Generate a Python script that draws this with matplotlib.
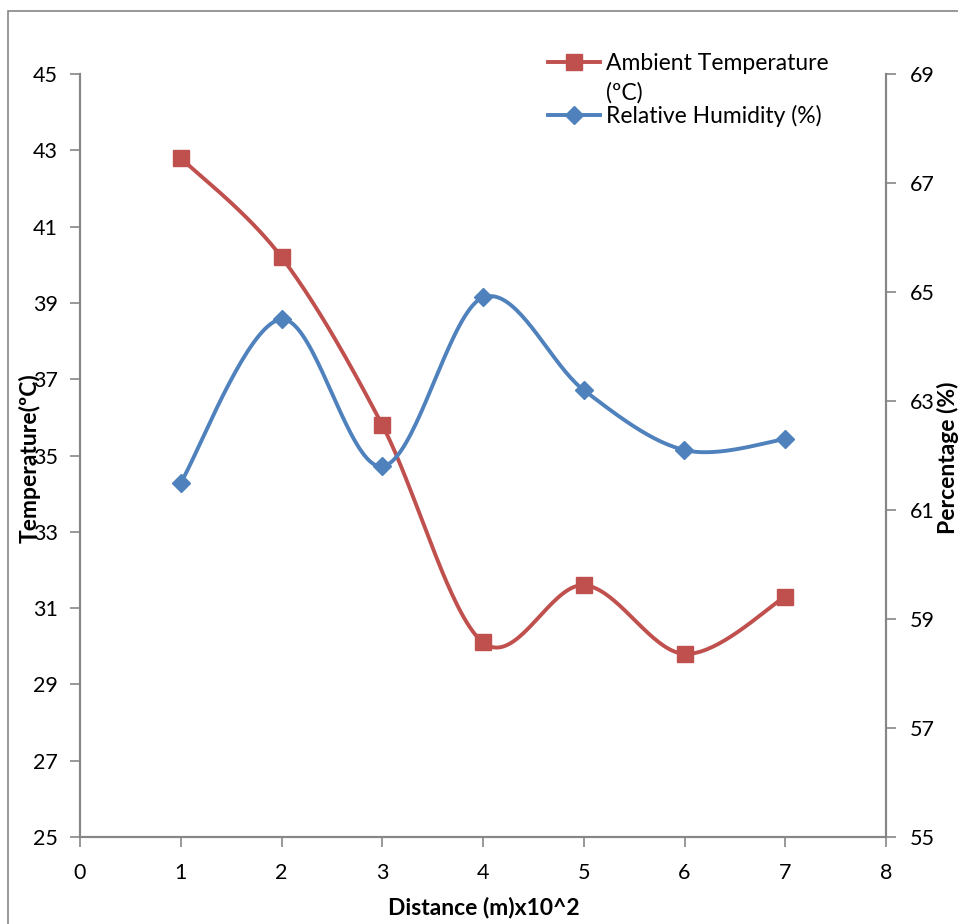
import numpy as np
import matplotlib
matplotlib.use('Agg')
import matplotlib.pyplot as plt
from matplotlib.lines import Line2D
from matplotlib.patches import Rectangle

distance = [1, 2, 3, 4, 5, 6, 7]
temperature = [42.8, 40.2, 35.8, 30.1, 31.6, 29.8, 31.3]
humidity = [61.5, 64.5, 61.8, 64.9, 63.2, 62.1, 62.3]

RED = '#C0504D'
BLUE = '#4F81BD'
GREY = '#868686'

plt.rcParams['font.family'] = ['Lato', 'DejaVu Sans']


def smooth(xs, ys, n=40):
    # excel-like smoothed line: cubic bezier segments through the points
    x = np.asarray(xs, float)
    y = np.asarray(ys, float)
    px = np.concatenate([[x[0]], x, [x[-1]]])
    py = np.concatenate([[y[0]], y, [y[-1]]])
    out_x, out_y = [], []
    t = np.linspace(0, 1, n)
    for i in range(1, len(px) - 2):
        p0 = np.array([px[i], py[i]])
        p3 = np.array([px[i + 1], py[i + 1]])
        c1 = p0 + (np.array([px[i + 1], py[i + 1]]) - np.array([px[i - 1], py[i - 1]])) / 6
        c2 = p3 - (np.array([px[i + 2], py[i + 2]]) - np.array([px[i], py[i]])) / 6
        b = ((1 - t) ** 3)[:, None] * p0 + (3 * (1 - t) ** 2 * t)[:, None] * c1 \
            + (3 * (1 - t) * t ** 2)[:, None] * c2 + (t ** 3)[:, None] * p3
        out_x.extend(b[:, 0])
        out_y.extend(b[:, 1])
    return out_x, out_y


fig = plt.figure(figsize=(9.58, 9.24), dpi=100)
fig.patches.append(Rectangle((8 / 958, -0.1), 2, 1 - 11 / 924 + 0.1, transform=fig.transFigure,
                             fill=False, edgecolor=GREY, linewidth=1.2))
ax = fig.add_axes([80 / 958, 1 - 837 / 924, (886 - 80) / 958, (837 - 74) / 924])
ax2 = ax.twinx()

sx, sy = smooth(distance, temperature)
ax.plot(sx, sy, color=RED, linewidth=2.8, zorder=3)
ax.plot(distance, temperature, linestyle='none', marker='s', markersize=11,
        color=RED, zorder=4)

hx, hy = smooth(distance, humidity)
ax2.plot(hx, hy, color=BLUE, linewidth=2.8, zorder=3)
ax2.plot(distance, humidity, linestyle='none', marker='D', markersize=9,
         color=BLUE, zorder=4)

ax.set_xlim(0, 8)
ax.set_ylim(25, 45)
ax.set_yticks(np.arange(25, 46, 2))
ax.set_xticks(range(0, 9))
ax2.set_ylim(55, 69)
ax2.set_yticks(np.arange(55, 70, 2))

for a in (ax, ax2):
    a.spines['top'].set_visible(False)
    for s in ('left', 'right', 'bottom'):
        a.spines[s].set_color(GREY)
        a.spines[s].set_linewidth(1.5)
    a.tick_params(direction='out', length=7, width=1.2, color=GREY,
                  labelsize=15.5, labelcolor='black')
    a.set_facecolor('none')
ax.tick_params(axis='y', pad=9)
ax.tick_params(axis='x', pad=12)
ax2.tick_params(axis='y', pad=10)

fig.text(30 / 958, 1 - 458 / 924, 'Temperature(ºC)', rotation=90, ha='center', va='center',
         fontsize=16.5, fontweight='bold')
fig.text(948 / 958, 1 - 458 / 924, 'Percentage (%)', rotation=90, ha='center', va='center',
         fontsize=16.5, fontweight='bold')
fig.text(484 / 958, 1 - 908 / 924, 'Distance (m)x10^2', ha='center', va='center',
         fontsize=16.5, fontweight='bold')

# legend drawn by hand to get the wrapped label like the original
legend_rows = [(62, RED, 's', 11, ['Ambient Temperature', '(ºC)']),
               (115, BLUE, 'D', 9, ['Relative Humidity (%)'])]
for yy, col, mk, ms, lines in legend_rows:
    fy = 1 - yy / 924
    fig.lines.append(Line2D([548 / 958, 600 / 958], [fy, fy], transform=fig.transFigure,
                            color=col, linewidth=2.8))
    fig.lines.append(Line2D([574 / 958], [fy], transform=fig.transFigure, color=col,
                            marker=mk, markersize=ms, linestyle='none'))
    for k, txt in enumerate(lines):
        fig.text(606 / 958, 1 - (yy + 1 + 30 * k) / 924, txt, ha='left', va='center',
                 fontsize=16.5)

fig.savefig('out.png', dpi=100)
